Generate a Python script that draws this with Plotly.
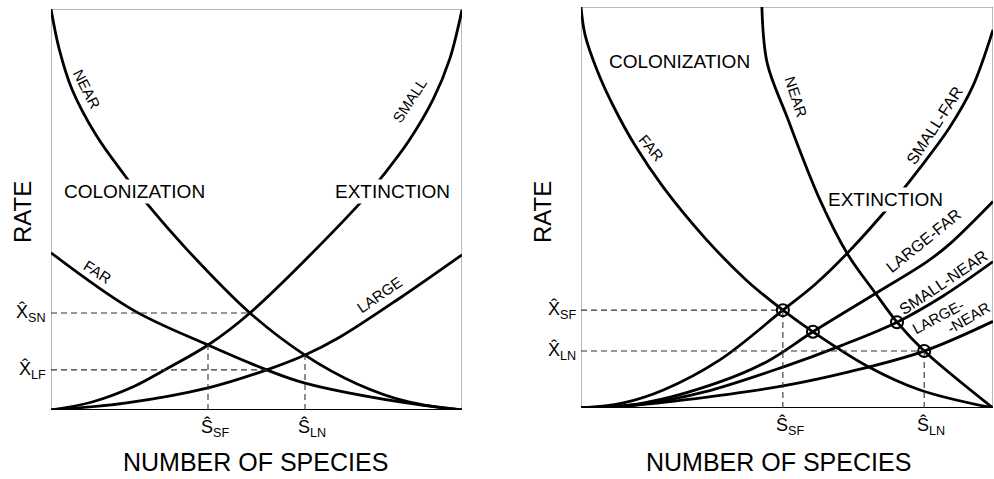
import plotly.graph_objects as go

# ---------------- data (normalised: species 0..1, rate 0..1) ----------------
# Left panel
L_near_x = [0.0, 0.02, 0.051, 0.11, 0.175, 0.229, 0.331, 0.484, 0.618, 0.745, 0.87, 1.0]
L_near_y = [1.0, 0.90, 0.80, 0.685, 0.591, 0.52, 0.40, 0.242, 0.137, 0.065, 0.02, 0.0]
L_far_x = [0.0, 0.200, 0.382, 0.525, 0.618, 0.849, 1.0]
L_far_y = [0.392, 0.249, 0.162, 0.100, 0.067, 0.020, 0.0]
L_small_x = [0.0, 0.1, 0.2, 0.273, 0.382, 0.484, 0.752, 0.808, 0.87, 0.93, 0.97, 1.0]
L_small_y = [0.0, 0.02, 0.058, 0.098, 0.162, 0.242, 0.516, 0.585, 0.67, 0.775, 0.875, 0.998]
L_large_x = [0.0, 0.180, 0.382, 0.525, 0.618, 0.70, 0.85, 1.0]
L_large_y = [0.0, 0.017, 0.055, 0.100, 0.137, 0.18, 0.28, 0.387]
# equilibria (left)
L_xhat_names = ["SN", "LF"]
L_xhat_vals = [0.242, 0.100]
L_xhat_ends = [0.484, 0.525]
L_shat_names = ["SF", "LN"]
L_shat_vals = [0.382, 0.618]
L_shat_tops = [0.162, 0.137]

# Right panel
R_far_x = [0.0, 0.01, 0.04, 0.08, 0.131, 0.2, 0.3, 0.4, 0.490, 0.563, 0.694, 0.823, 1.0]
R_far_y = [1.0, 0.93, 0.84, 0.75, 0.655, 0.55, 0.425, 0.32, 0.244, 0.190, 0.105, 0.045, 0.0]
R_near_x = [0.439, 0.452, 0.5, 0.58, 0.648, 0.712, 0.767, 0.833, 1.0]
R_near_y = [1.0, 0.86, 0.726, 0.519, 0.382, 0.29, 0.214, 0.142, 0.0]
R_smallfar_x = [0.0, 0.1, 0.2, 0.337, 0.490, 0.57, 0.65, 0.75, 0.82, 0.895, 0.95, 1.0]
R_smallfar_y = [0.0, 0.012, 0.045, 0.120, 0.244, 0.31, 0.39, 0.505, 0.595, 0.70, 0.80, 0.943]
R_largefar_x = [0.0, 0.15, 0.337, 0.45, 0.563, 0.714, 0.84, 0.896, 1.0]
R_largefar_y = [0.0, 0.012, 0.065, 0.115, 0.190, 0.285, 0.365, 0.41, 0.515]
R_smallnear_x = [0.0, 0.15, 0.3, 0.490, 0.63, 0.767, 0.88, 1.0]
R_smallnear_y = [0.0, 0.01, 0.04, 0.102, 0.155, 0.214, 0.28, 0.365]
R_largenear_x = [0.0, 0.1, 0.25, 0.49, 0.65, 0.833, 1.0]
R_largenear_y = [0.0, 0.004, 0.02, 0.055, 0.09, 0.142, 0.216]
# intersections marked with circles (right)
R_circ_x = [0.490, 0.563, 0.767, 0.833]
R_circ_y = [0.244, 0.190, 0.214, 0.142]
R_xhat_names = ["SF", "LN"]
R_xhat_vals = [0.244, 0.142]
R_xhat_ends = [0.490, 0.833]
R_shat_names = ["SF", "LN"]
R_shat_vals = [0.490, 0.833]
R_shat_tops = [0.244, 0.142]

W, H = 994, 479
FONT = "Liberation Sans"
fig = go.Figure()

def curve(x, y, xa, ya):
    fig.add_trace(go.Scatter(x=x, y=y, mode="lines", xaxis=xa, yaxis=ya,
                             line=dict(color="black", width=2.8, shape="spline", smoothing=1.0),
                             hoverinfo="skip", showlegend=False))

def dashed(x, y, xa, ya):
    fig.add_trace(go.Scatter(x=x, y=y, mode="lines", xaxis=xa, yaxis=ya,
                             line=dict(color="#333", width=1.1, dash="6px,4px"),
                             hoverinfo="skip", showlegend=False))

# left
for xs, ys in [(L_near_x, L_near_y), (L_far_x, L_far_y), (L_small_x, L_small_y), (L_large_x, L_large_y)]:
    curve(xs, ys, "x", "y")
for v, e in zip(L_xhat_vals, L_xhat_ends):
    dashed([0, e], [v, v], "x", "y")
for v, t in zip(L_shat_vals, L_shat_tops):
    dashed([v, v], [0, t], "x", "y")

# right
for xs, ys in [(R_far_x, R_far_y), (R_near_x, R_near_y), (R_smallfar_x, R_smallfar_y),
               (R_largefar_x, R_largefar_y), (R_smallnear_x, R_smallnear_y), (R_largenear_x, R_largenear_y)]:
    curve(xs, ys, "x2", "y2")
for v, e in zip(R_xhat_vals, R_xhat_ends):
    dashed([0, e], [v, v], "x2", "y2")
for v, t in zip(R_shat_vals, R_shat_tops):
    dashed([v, v], [0, t], "x2", "y2")
fig.add_trace(go.Scatter(x=R_circ_x, y=R_circ_y, mode="markers", xaxis="x2", yaxis="y2",
                         marker=dict(symbol="circle-open", size=12, color="black",
                                     line=dict(color="black", width=2)),
                         hoverinfo="skip", showlegend=False))

ann = []
def text(t, x, y, xr, yr, size=14, angle=0, bg=None, **kw):
    d = dict(text=t, x=x, y=y, xref=xr, yref=yr, showarrow=False, textangle=angle,
             xanchor="center", yanchor="middle",
             font=dict(family=FONT, size=size, color="black"))
    if bg:
        d["bgcolor"] = bg
    d.update(kw)
    ann.append(d)

# left labels
text("NEAR", 0.088, 0.800, "x", "y", 15, 63)
text("SMALL", 0.872, 0.772, "x", "y", 15, -57)
text("FAR", 0.112, 0.345, "x", "y", 15, 33)
text("LARGE", 0.800, 0.288, "x", "y", 15, -35)
text("COLONIZATION", 0.202, 0.544, "x", "y", 19, bg="white")
text("EXTINCTION", 0.830, 0.544, "x", "y", 19, bg="white")
# right labels
text("COLONIZATION", 0.240, 0.863, "x2", "y2", 19)
text("EXTINCTION", 0.740, 0.519, "x2", "y2", 19, bg="white")
text("FAR", 0.170, 0.650, "x2", "y2", 15, 50)
text("NEAR", 0.523, 0.775, "x2", "y2", 15, 72)
text("SMALL-FAR", 0.858, 0.705, "x2", "y2", 16, -57)
text("LARGE-FAR", 0.832, 0.418, "x2", "y2", 16, -39)
text("SMALL-NEAR", 0.879, 0.314, "x2", "y2", 16, -34)
text("LARGE-", 0.867, 0.229, "x2", "y2", 15, -28)
text("-NEAR", 0.940, 0.226, "x2", "y2", 15, -30)

# axis titles
for xp in [22 / W, 542 / W]:
    text("RATE", xp, 1 - 212 / H, "paper", "paper", 24, -90)
text("NUMBER OF SPECIES", 255 / W, 1 - 462 / H, "paper", "paper", 25)
text("NUMBER OF SPECIES", 778 / W, 1 - 462 / H, "paper", "paper", 25)

# equilibrium tick labels
for n, v in zip(L_xhat_names, L_xhat_vals):
    text("X\u0302<sub>%s</sub>" % n, 0, v, "x", "y", 18, xanchor="right", xshift=-3)
for n, v in zip(L_shat_names, L_shat_vals):
    text("\u015c<sub>%s</sub>" % n, v, 0, "x", "y", 18, xanchor="left", yanchor="top", xshift=-9, yshift=-4)
for n, v in zip(R_xhat_names, R_xhat_vals):
    text("X\u0302<sub>%s</sub>" % n, 0, v, "x2", "y2", 18, xanchor="right", xshift=-3)
for n, v in zip(R_shat_names, R_shat_vals):
    text("\u015c<sub>%s</sub>" % n, v, 0, "x2", "y2", 18, xanchor="left", yanchor="top", xshift=-9, yshift=-4)

shapes = []
for xr, yr in [("x", "y"), ("x2", "y2")]:
    shapes.append(dict(type="rect", xref=xr, yref=yr, x0=0, x1=1, y0=0, y1=1,
                       line=dict(color="#777", width=1), layer="below"))
    shapes.append(dict(type="line", xref=xr, yref=yr, x0=0, x1=1, y0=0, y1=0,
                       line=dict(color="black", width=2), layer="below"))

ax = dict(range=[0, 1], visible=False, fixedrange=True)
fig.update_layout(
    width=W, height=H, margin=dict(l=0, r=0, t=0, b=0),
    paper_bgcolor="white", plot_bgcolor="white", showlegend=False,
    xaxis=dict(ax, domain=[51 / W, 462 / W]),
    yaxis=dict(ax, domain=[1 - 410 / H, 1 - 9 / H]),
    xaxis2=dict(ax, domain=[581 / W, 993 / W]),
    yaxis2=dict(ax, domain=[1 - 408 / H, 1 - 7 / H]),
    annotations=ann, shapes=shapes,
)
fig.write_html("out.html", config={"displayModeBar": False},
               post_script="document.body.style.margin='0';document.body.style.overflow='hidden';")
